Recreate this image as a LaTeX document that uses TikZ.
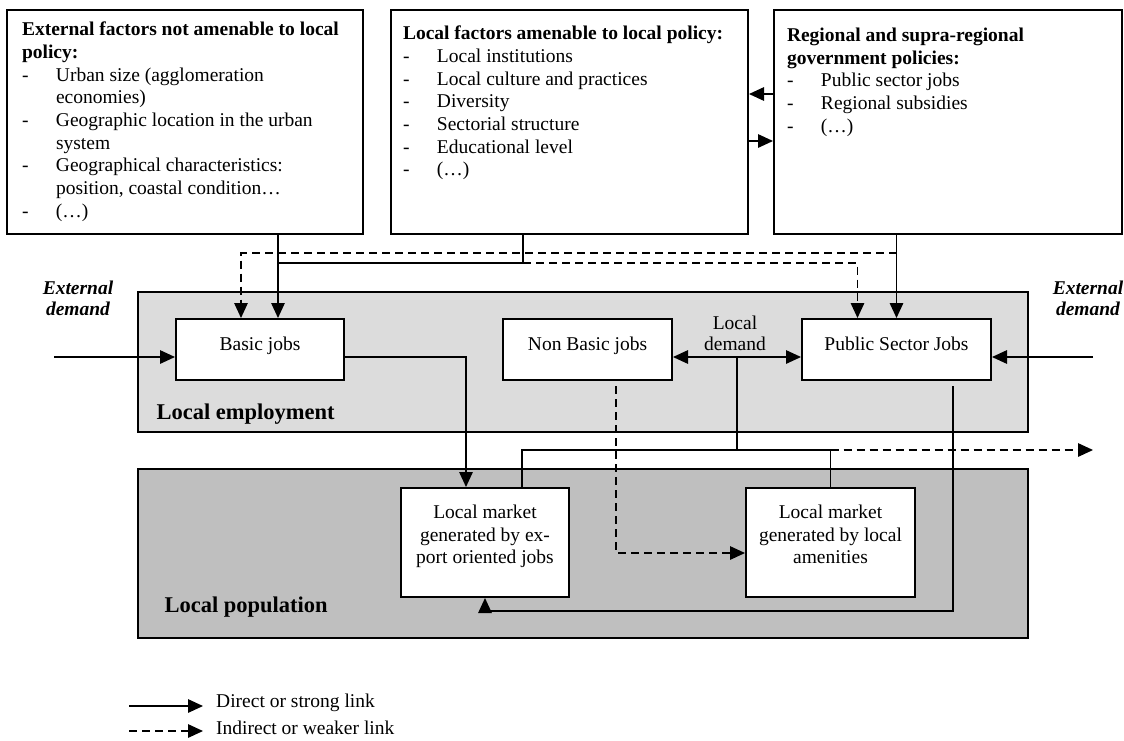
\documentclass[tikz,border=0pt]{standalone}
\usepackage{fontspec}
\setmainfont{Liberation Serif}
\usepackage{xcolor}
\usepackage{tikz}
\usetikzlibrary{arrows.meta}
\usetikzlibrary{calc}
\definecolor{empGray}{HTML}{DCDCDC}
\definecolor{popGray}{HTML}{BFBFBF}
\newcommand{\factorItem}[1]{\par\noindent\hangindent=34pt\hangafter=1\makebox[34pt][l]{-}#1}

\begin{document}
\begin{tikzpicture}[x=1pt, y=-1pt,
	font=\fontsize{19.5}{22.7}\selectfont,
	topBox/.style={draw, line width=2pt, fill=white, inner sep=0pt, minimum height=224pt},
	areaBox/.style={draw, line width=2pt, inner sep=0pt, minimum width=890pt},
	jobBox/.style={draw, line width=2pt, fill=white, inner sep=0pt, minimum height=61pt, text height=14pt, text depth=13pt},
	marketBox/.style={draw, line width=2pt, fill=white, inner sep=0pt, minimum height=109pt, align=center},
	plainLine/.style={line width=1.4pt},
	strongLink/.style={line width=1.4pt, -{Triangle[length=15pt, width=13.5pt]}},
	weakLink/.style={strongLink, dash pattern=on 8pt off 5pt},
	bigBold/.style={font=\fontsize{22.5}{26}\selectfont\bfseries},
	demandTxt/.style={align=center, font=\fontsize{19.5}{21}\selectfont\bfseries\itshape}]
			\useasboundingbox (0,0) rectangle (1124,740);
			\node[areaBox, fill=empGray, minimum height=140pt] (emp) at (583,362) {};
			\node[areaBox, fill=popGray, minimum height=169pt] (pop) at (583,553.5) {};
			\node[bigBold, anchor=west] (empTxt) at (153,414) {Local employment};
			\node[bigBold, anchor=west] (popTxt) at (161,607) {Local population};
			
			\node[topBox, minimum width=356pt] (extf) at (185,122) {\parbox[t][200pt][t]{326pt}{%
				\textbf{External factors not amenable to local\newline policy:}
				\factorItem{Urban size (agglomeration\newline economies)}
				\factorItem{Geographic location in the urban\newline system}
				\factorItem{Geographical characteristics:\newline position, coastal condition…}
				\factorItem{(…)}}};
			\node[topBox, minimum width=357pt] (locf) at (569.5,122) {\parbox[t][192pt][t]{333pt}{%
				\textbf{Local factors amenable to local policy:}
				\factorItem{Local institutions}
				\factorItem{Local culture and practices}
				\factorItem{Diversity}
				\factorItem{Sectorial structure}
				\factorItem{Educational level}
				\factorItem{(…)}}};
			\node[topBox, minimum width=348pt] (regf) at (948,122) {\parbox[t][188pt][t]{322pt}{%
				\textbf{Regional and supra-regional\newline government policies:}
				\factorItem{Public sector jobs}
				\factorItem{Regional subsidies}
				\factorItem{(…)}}};
			
			\node[jobBox, minimum width=168pt] (bj) at (260,349.5) {Basic jobs};
			\node[jobBox, minimum width=169pt] (nbj) at (587.5,349.5) {Non Basic jobs};
			\node[jobBox, minimum width=189pt] (psj) at (896.5,349.5) {Public Sector Jobs};
			\node[marketBox, minimum width=168pt] (lm1) at (485,542.5) {Local market\\generated by ex-\\port oriented jobs\rule[-16pt]{0pt}{0pt}};
			\node[marketBox, minimum width=169pt] (lm2) at (830.5,542.5) {Local market\\generated by local\\amenities\rule[-16pt]{0pt}{0pt}};
			
			\node[demandTxt] (extDemTxtL) at (78,298.5) {External\\demand};
			\node[demandTxt] (extDemTxtR) at (1088,298.5) {External\\demand};
			\node[align=center, font=\fontsize{19.5}{21}\selectfont] (locDemTxt) at (735,333) {Local\\demand};
			
			\coordinate (extOut) at (278,263);
			\coordinate (locOut) at (523,263);
			\coordinate (regWeak) at (896.5,253);
			\coordinate (extDemL) at (54,357);
			\coordinate (extDemR) at (1093,357);
			\coordinate (locDem) at (737,357);
			\coordinate (mktJoin) at (737,450);
			
			\draw[strongLink] (regf.west |- 0,94) -- (locf.east |- 0,94);
			\draw[strongLink] (locf.east |- 0,141) -- (regf.west |- 0,141);
			
			\draw[strongLink] (extf.south -| extOut) -- (extOut |- bj.north);
			\draw[plainLine] (locf.south -| locOut) |- (extOut);
			\draw[weakLink] (regWeak) -| ($(bj.north)+(-19,0)$);
			\draw[strongLink] (regf.south -| psj.north) -- (psj.north);
			\draw[weakLink] (locOut) -| ($(psj.north)+(-39,0)$);
			
			\draw[strongLink] (extDemL) -- (extDemL -| bj.west);
			\draw[strongLink] (extDemR) -- (extDemR -| psj.east);
			\draw[strongLink] (bj.east |- extDemL) -| ($(lm1.north)+(-19,0)$);
			\draw[strongLink] (locDem) -- (locDem -| nbj.east);
			\draw[strongLink] (locDem) -- (locDem -| psj.west);
			\draw[plainLine] (locDem) -- (mktJoin);
			\draw[plainLine] ($(lm1.north)+(37,0)$) |- (mktJoin -| lm2.north) -- (lm2.north);
			\draw[weakLink] (mktJoin -| lm2.north) -- (mktJoin -| extDemR);
			\draw[weakLink] ($(nbj.south)+(28.5,5)$) |- ($(lm2.west)+(0,10.5)$);
			\draw[strongLink] ($(psj.south)+(56.5,5)$) |- ($(lm1.south)+(0,13)$) -- (lm1.south);
			
			\coordinate (legStrong) at (129,706);
			\coordinate (legWeak) at (129,731);
			\node[anchor=west, inner sep=0pt] (legStrongTxt) at (216,703) {Direct or strong link};
			\node[anchor=west, inner sep=0pt] (legWeakTxt) at (216,728) {Indirect or weaker link};
			\draw[strongLink] (legStrong) -- (legStrong -| 203,0);
			\draw[weakLink] (legWeak) -- (legWeak -| 203,0);
\end{tikzpicture}
\end{document}
